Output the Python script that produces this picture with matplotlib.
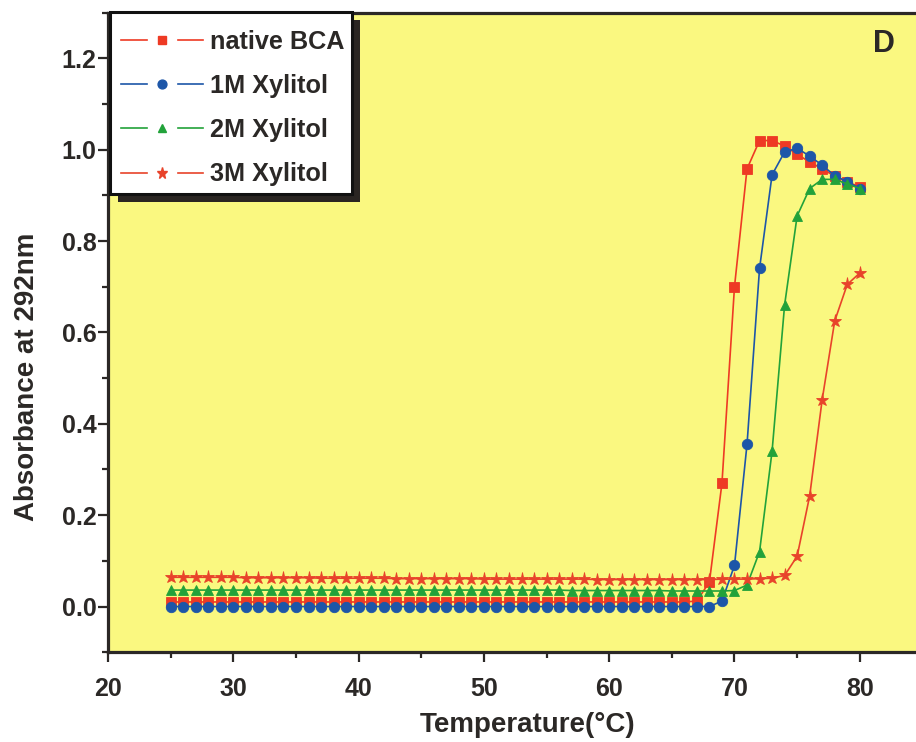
import matplotlib
matplotlib.use("Agg")
import matplotlib.pyplot as plt
from matplotlib.lines import Line2D
from matplotlib.legend_handler import HandlerBase
from matplotlib.patches import Rectangle
from matplotlib.ticker import MultipleLocator, FormatStrFormatter

# ─── Data ───────────────────────────────────────────────────────────────────
temps = list(range(25, 81))

native_bca = [
    0.010, 0.010, 0.010, 0.010, 0.010, 0.010, 0.010, 0.010, 0.010, 0.010,
    0.010, 0.010, 0.010, 0.010, 0.010, 0.010, 0.010, 0.010, 0.010, 0.010,
    0.010, 0.010, 0.010, 0.010, 0.010, 0.010, 0.010, 0.010, 0.010, 0.010,
    0.010, 0.010, 0.010, 0.010, 0.010, 0.010, 0.010, 0.010, 0.010, 0.010,
    0.010, 0.010, 0.012,
    0.054, 0.270, 0.700, 0.958, 1.020, 1.020, 1.008, 0.990, 0.973, 0.958,
    0.942, 0.929, 0.919,
]
xylitol_1m = [
    0.000, 0.000, 0.000, 0.000, 0.000, 0.000, 0.000, 0.000, 0.000, 0.000,
    0.000, 0.000, 0.000, 0.000, 0.000, 0.000, 0.000, 0.000, 0.000, 0.000,
    0.000, 0.000, 0.000, 0.000, 0.000, 0.000, 0.000, 0.000, 0.000, 0.000,
    0.000, 0.000, 0.000, 0.000, 0.000, 0.000, 0.000, 0.000, 0.000, 0.000,
    0.000, 0.000, 0.000,
    0.000, 0.012, 0.090, 0.355, 0.740, 0.945, 0.995, 1.003, 0.986, 0.966,
    0.943, 0.930, 0.915,
]
xylitol_2m = [
    0.036, 0.036, 0.036, 0.036, 0.036, 0.036, 0.036, 0.036, 0.036, 0.036,
    0.036, 0.036, 0.036, 0.036, 0.036, 0.036, 0.036, 0.036, 0.036, 0.036,
    0.036, 0.036, 0.036, 0.036, 0.036, 0.036, 0.036, 0.036, 0.036, 0.036,
    0.036, 0.036, 0.035, 0.035, 0.035, 0.035, 0.035, 0.035, 0.035, 0.035,
    0.034, 0.034, 0.034,
    0.034, 0.034, 0.035, 0.047, 0.120, 0.340, 0.660, 0.855, 0.915, 0.935,
    0.935, 0.925, 0.915,
]
xylitol_3m = [
    0.064, 0.064, 0.064, 0.064, 0.064, 0.064, 0.063, 0.063, 0.063, 0.063,
    0.063, 0.063, 0.062, 0.062, 0.062, 0.062, 0.062, 0.062, 0.061, 0.061,
    0.061, 0.061, 0.061, 0.061, 0.061, 0.060, 0.060, 0.060, 0.060, 0.060,
    0.060, 0.060, 0.060, 0.060, 0.059, 0.059, 0.059, 0.059, 0.059, 0.059,
    0.059, 0.059, 0.059,
    0.059, 0.060, 0.060, 0.060, 0.061, 0.062, 0.068, 0.110, 0.242, 0.453,
    0.625, 0.705, 0.730,
]

labels = ["native BCA", "1M Xylitol", "2M Xylitol", "3M Xylitol"]
colors = ["#EE3A24", "#1D56A8", "#22A23A", "#E8432A"]
markers = ["s", "o", "^", "*"]
msizes = [7.0, 7.5, 7.5, 9.5]

BG = "#FAF880"
INK = "#2B2826"
FONT = "Liberation Sans"


class GapLineHandler(HandlerBase):
    """Origin-style legend key: line - marker - line, with gaps."""

    def create_artists(self, legend, orig_handle, xdescent, ydescent,
                       width, height, fontsize, trans):
        y = height / 2 - ydescent
        x0 = -xdescent
        mid = x0 + width / 2
        gap = width * 0.19
        c = orig_handle.get_color()
        lw = orig_handle.get_linewidth()
        left = Line2D([x0, mid - gap], [y, y], color=c, lw=lw)
        right = Line2D([mid + gap, x0 + width], [y, y], color=c, lw=lw)
        mk = Line2D([mid], [y], ls="none", marker=orig_handle.get_marker(),
                    markersize=orig_handle.get_markersize() * 0.85,
                    color=c, markeredgecolor=c)
        for a in (left, right, mk):
            a.set_transform(trans)
        return [left, right, mk]


def main():
    fig = plt.figure(figsize=(9.16, 7.42), dpi=100)
    fig.patch.set_facecolor("white")
    ax = fig.add_axes([0.118, 0.121, 0.889, 0.862])
    ax.set_facecolor(BG)

    series = [native_bca, xylitol_1m, xylitol_2m, xylitol_3m]
    handles = []
    for vals, lab, c, m, ms in zip(series, labels, colors, markers, msizes):
        h, = ax.plot(temps, vals, color=c, lw=1.2, marker=m, markersize=ms,
                     markeredgecolor=c, markeredgewidth=0.6, label=lab)
        handles.append(h)

    ax.set_xlim(20, 85)
    ax.set_ylim(-0.1, 1.3)
    ax.xaxis.set_minor_locator(MultipleLocator(5))
    ax.yaxis.set_minor_locator(MultipleLocator(0.1))
    ax.set_xticks([20, 30, 40, 50, 60, 70, 80])
    ax.set_yticks([0.0, 0.2, 0.4, 0.6, 0.8, 1.0, 1.2])
    ax.yaxis.set_major_formatter(FormatStrFormatter("%.1f"))

    for s in ax.spines.values():
        s.set_linewidth(2.3)
        s.set_color(INK)
    ax.tick_params(which="major", direction="out", length=7, width=1.6,
                   color=INK, labelsize=18, labelcolor=INK)
    ax.tick_params(axis="x", which="major", pad=10.5)
    ax.tick_params(axis="y", which="major", pad=1.5)
    ax.tick_params(which="minor", direction="out", length=4.5, width=1.6,
                   color=INK)
    for t in ax.get_xticklabels() + ax.get_yticklabels():
        t.set_fontfamily(FONT)
        t.set_fontweight("bold")

    ax.set_xlabel("Temperature(°C)", fontsize=20, fontweight="bold",
                  family=FONT, color=INK, va="center")
    ax.xaxis.set_label_coords(0.515, -0.114)
    ax.set_ylabel("Absorbance at 292nm", fontsize=20, fontweight="bold",
                  family=FONT, color=INK, va="center")
    ax.yaxis.set_label_coords(-0.1, 0.43)

    ax.text(0.953, 0.951, "D", transform=ax.transAxes, ha="center",
            va="center", fontsize=22, fontweight="bold", family=FONT,
            color=INK)

    leg = ax.legend(handles=handles, loc="upper left",
                    bbox_to_anchor=(0.002, 0.991), borderaxespad=0.0,
                    handler_map={Line2D: GapLineHandler()},
                    handlelength=3.25, handletextpad=0.28, labelspacing=0.80,
                    borderpad=0.45, frameon=False,
                    prop={"family": FONT, "weight": "bold", "size": 18.2})
    for t in leg.get_texts():
        t.set_color(INK)

    # Origin-style frame + drop shadow, drawn under the legend entries
    fig.canvas.draw()
    wb = leg.get_window_extent()
    x0, x1 = wb.x0, wb.x1 - 4
    y0, y1 = wb.y0 + 4, wb.y1 + 6
    inv = ax.transAxes.inverted()
    (ax0, ay0), (ax1, ay1) = inv.transform([(x0, y0), (x1, y1)])
    (sx0, sy0), _ = inv.transform([(x0 + 8, y0 - 8), (x1, y1)])
    ax.add_patch(Rectangle((sx0, sy0), ax1 - ax0, ay1 - ay0,
                           transform=ax.transAxes, facecolor="#2A2522",
                           edgecolor="none", zorder=4.8, clip_on=False))
    ax.add_patch(Rectangle((ax0, ay0), ax1 - ax0, ay1 - ay0,
                           transform=ax.transAxes, facecolor="white",
                           edgecolor="#111111", linewidth=2.2, zorder=4.9,
                           clip_on=False))

    fig.savefig("out.png", dpi=100, facecolor="white")
    plt.close(fig)


if __name__ == "__main__":
    main()
